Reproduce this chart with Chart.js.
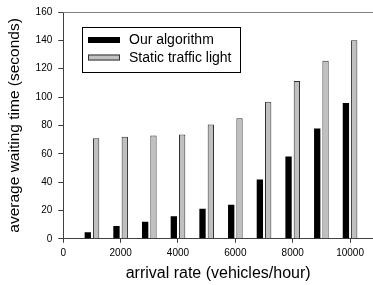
<!DOCTYPE html>
<html>
<head>
<meta charset="utf-8">
<script src="https://cdn.jsdelivr.net/npm/chart.js@4/dist/chart.umd.min.js"></script>
<style>
  html, body { margin: 0; padding: 0; background: #fff; }
  #wrap { width: 373px; height: 285px; }
</style>
</head>
<body>
<div id="wrap"><canvas id="chart" width="373" height="285"></canvas></div>
<script>
// Data
const arrivalRates = [1000, 2000, 3000, 4000, 5000, 6000, 7000, 8000, 9000, 10000];
const ourAlgorithm = [4.6, 9, 12, 15.9, 21.2, 24, 41.8, 58, 77.8, 95.8];
const staticLight = [71, 72, 72.8, 73.5, 80.6, 85, 96.6, 111.4, 125.6, 140];
const xTicks = [0, 2000, 4000, 6000, 8000, 10000];
const yTicks = [0, 20, 40, 60, 80, 100, 120, 140, 160];

const FONT = 'Liberation Sans, Arial, sans-serif';
const AXIS_COLOR = '#404040';

function toPoints(values) {
    return arrivalRates.map((x, i) => ({ x: x, y: values[i] }));
}

// Legend drawn inside the plot, boxed like the original
const insideLegend = {
    id: 'insideLegend',
    afterDraw(chart) {
        const ctx = chart.ctx;
        const box = { x: 82, y: 27, w: 158, h: 45 };
        ctx.save();
        ctx.fillStyle = '#fff';
        ctx.fillRect(box.x, box.y, box.w, box.h);
        ctx.strokeStyle = '#000';
        ctx.lineWidth = 1;
        ctx.strokeRect(box.x + 0.5, box.y + 0.5, box.w, box.h);
        ctx.font = '14px ' + FONT;
        ctx.textBaseline = 'middle';
        chart.data.datasets.forEach((ds, i) => {
            const cy = 40 + i * 17.5;
            ctx.fillStyle = ds.backgroundColor;
            ctx.fillRect(88, cy - 3, 32, 6);
            ctx.strokeStyle = ds.borderColor;
            ctx.strokeRect(88.5, cy - 2.5, 31, 5);
            ctx.fillStyle = '#000';
            ctx.fillText(ds.label, 129, cy + 0.5);
        });
        ctx.restore();
    }
};

// Top frame line of the plot
const topFrame = {
    id: 'topFrame',
    afterDraw(chart) {
        const a = chart.chartArea;
        const ctx = chart.ctx;
        ctx.save();
        ctx.strokeStyle = '#808080';
        ctx.lineWidth = 1;
        ctx.beginPath();
        ctx.moveTo(a.left, Math.round(a.top) + 0.5);
        ctx.lineTo(a.right, Math.round(a.top) + 0.5);
        ctx.stroke();
        ctx.restore();
    }
};

new Chart(document.getElementById('chart'), {
    type: 'bar',
    data: {
        datasets: [{
            label: 'Our algorithm',
            data: toPoints(ourAlgorithm),
            backgroundColor: '#000000',
            borderColor: '#000000',
            borderWidth: 0
        }, {
            label: 'Static traffic light',
            data: toPoints(staticLight),
            backgroundColor: '#c0c0c0',
            borderColor: '#303030',
            borderWidth: 1
        }]
    },
    options: {
        responsive: false,
        animation: false,
        events: [],
        categoryPercentage: 0.58,
        barPercentage: 0.76,
        layout: { padding: { top: 6, right: 0, left: 5, bottom: 0 } },
        plugins: {
            legend: { display: false },
            tooltip: { enabled: false }
        },
        scales: {
            x: {
                type: 'linear',
                min: 0,
                max: 10800,
                offset: false,
                afterBuildTicks: axis => { axis.ticks = xTicks.map(v => ({ value: v })); },
                ticks: {
                    color: '#000',
                    font: { family: FONT, size: 10 },
                    padding: 4,
                    maxRotation: 0,
                    callback: v => String(v)
                },
                grid: { drawOnChartArea: false, offset: false, tickLength: 4, color: AXIS_COLOR },
                border: { color: AXIS_COLOR, width: 1 },
                title: {
                    display: true,
                    text: 'arrival rate (vehicles/hour)',
                    color: '#000',
                    font: { family: FONT, size: 16 },
                    padding: { top: 1, bottom: 2 }
                }
            },
            y: {
                min: 0,
                max: 160,
                afterBuildTicks: axis => { axis.ticks = yTicks.map(v => ({ value: v })); },
                ticks: { color: '#000', font: { family: FONT, size: 10 }, padding: 6 },
                grid: { drawOnChartArea: false, tickLength: 5, color: AXIS_COLOR },
                border: { color: AXIS_COLOR, width: 1 },
                title: {
                    display: true,
                    text: 'average waiting time (seconds)',
                    color: '#000',
                    font: { family: FONT, size: 15.5 },
                    padding: { top: 0, bottom: 6 }
                }
            }
        }
    },
    plugins: [topFrame, insideLegend]
});
</script>
</body>
</html>
